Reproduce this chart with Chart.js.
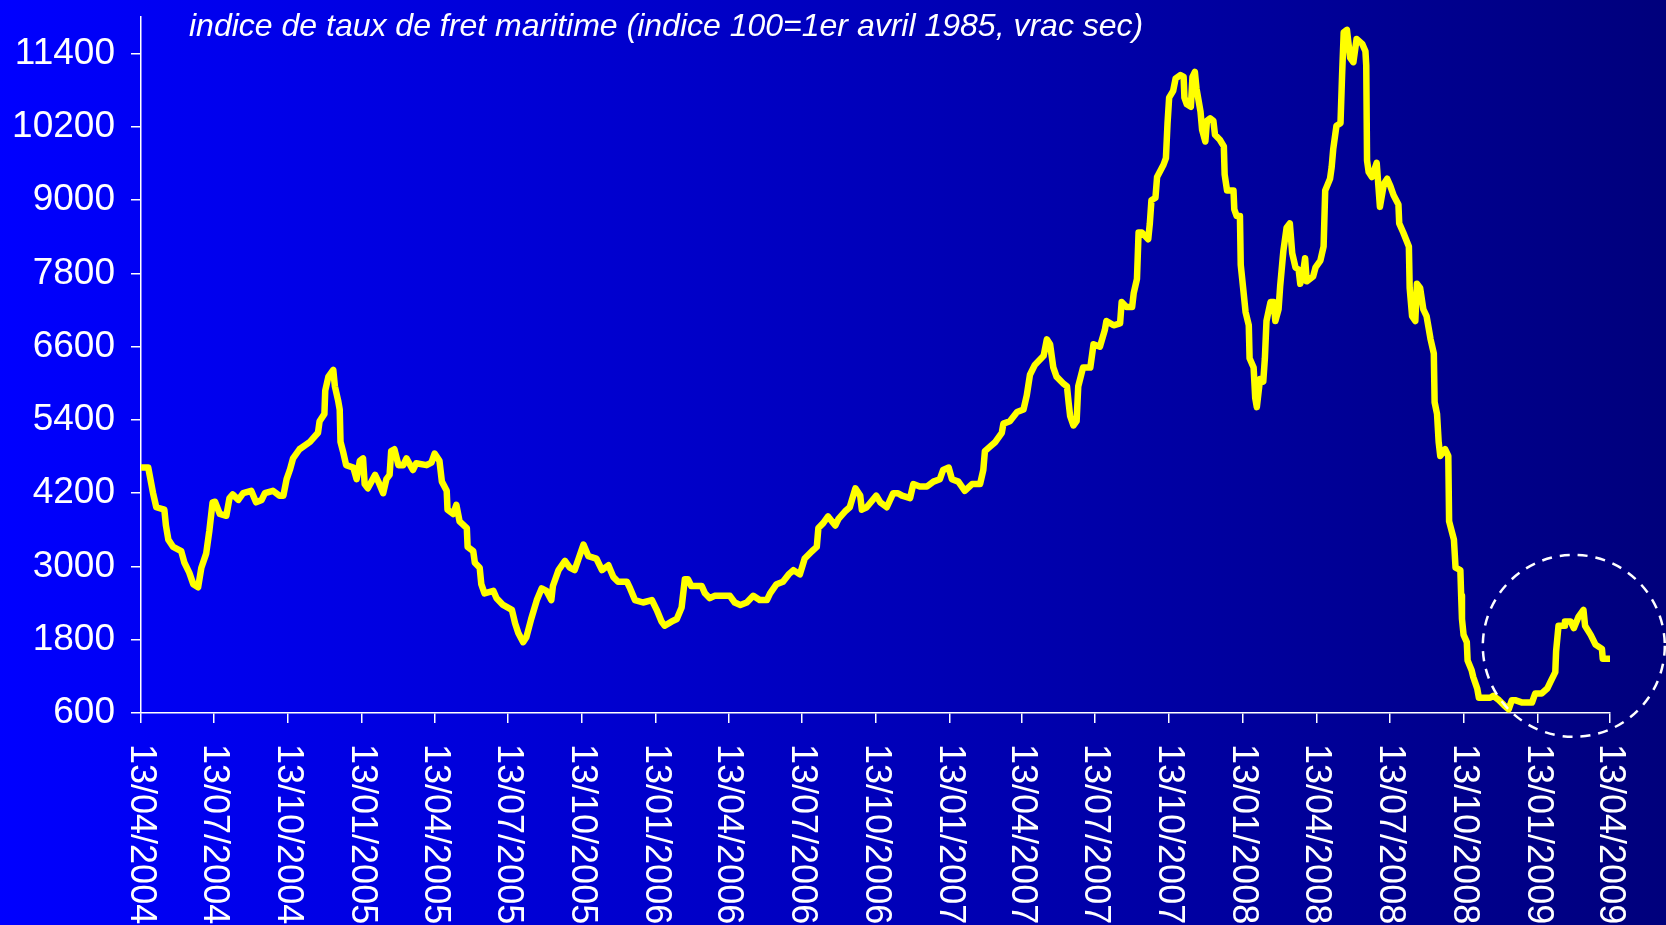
<!DOCTYPE html>
<html>
<head>
<meta charset="utf-8">
<script src="https://cdn.jsdelivr.net/npm/chart.js@4.4.0/dist/chart.umd.min.js"></script>
<style>
  html, body { margin: 0; padding: 0; background: #000080; overflow: hidden; }
</style>
</head>
<body>
<canvas id="myChart" width="1666" height="925"></canvas>
<script>
const titleText = "indice de taux de fret maritime (indice 100=1er avril 1985, vrac sec)";

const tickLabels = [
  "13/04/2004", "13/07/2004", "13/10/2004", "13/01/2005", "13/04/2005", "13/07/2005",
  "13/10/2005", "13/01/2006", "13/04/2006", "13/07/2006", "13/10/2006", "13/01/2007",
  "13/04/2007", "13/07/2007", "13/10/2007", "13/01/2008", "13/04/2008", "13/07/2008",
  "13/10/2008", "13/01/2009", "13/04/2009"
];

const yTicks = [600, 1800, 3000, 4200, 5400, 6600, 7800, 9000, 10200, 11400];

// jours depuis le 13/04/2004
const days = [
  0, 9, 15, 19, 29, 31, 34, 40, 50, 54, 60, 65, 71, 75, 81, 85, 89, 92, 98, 106,
  110, 114, 121, 127, 137, 143, 150, 154, 164, 172, 177, 181, 185, 189, 197, 210, 220, 222, 228, 229,
  233, 239, 241, 245, 247, 248, 251, 255, 264, 268, 272, 276, 278, 282, 291, 295, 301, 305, 309, 311,
  315, 320, 326, 330, 338, 342, 355, 361, 365, 371, 374, 380, 381, 388, 392, 396, 405, 406, 413, 415,
  421, 423, 427, 438, 442, 450, 461, 465, 469, 475, 479, 485, 492, 498, 504, 510, 512, 519, 527, 533,
  539, 544, 550, 556, 566, 573, 581, 587, 593, 604, 608, 614, 624, 635, 641, 647, 651, 660, 666, 672,
  676, 680, 684, 697, 701, 707, 713, 732, 738, 745, 753, 761, 769, 778, 782, 790, 798, 805, 811, 819,
  825, 834, 840, 842, 848, 854, 863, 867, 875, 881, 888, 894, 896, 902, 914, 919, 927, 935, 941, 946,
  956, 960, 968, 977, 985, 993, 997, 1004, 1008, 1016, 1024, 1033, 1043, 1047, 1049, 1055, 1062, 1070, 1072, 1080,
  1089, 1097, 1101, 1105, 1111, 1122, 1126, 1130, 1134, 1138, 1147, 1151, 1153, 1155, 1159, 1163, 1165, 1171, 1180, 1184,
  1192, 1198, 1200, 1209, 1217, 1219, 1225, 1232, 1234, 1238, 1240, 1244, 1252, 1254, 1256, 1261, 1263, 1271, 1274, 1276,
  1278, 1283, 1286, 1292, 1296, 1297, 1300, 1305, 1307, 1310, 1312, 1317, 1319, 1323, 1325, 1329, 1333, 1335, 1341, 1346,
  1347, 1350, 1358, 1359, 1362, 1366, 1367, 1370, 1373, 1377, 1378, 1383, 1385, 1387, 1391, 1395, 1397, 1399, 1404, 1408,
  1410, 1414, 1416, 1420, 1424, 1428, 1431, 1435, 1439, 1441, 1445, 1447, 1449, 1453, 1457, 1460, 1466, 1470, 1472, 1478,
  1480, 1482, 1486, 1491, 1493, 1495, 1499, 1503, 1507, 1511, 1518, 1522, 1523, 1524, 1526, 1530, 1536, 1540, 1545, 1549,
  1553, 1557, 1563, 1564, 1569, 1576, 1577, 1580, 1584, 1586, 1590, 1594, 1598, 1600, 1603, 1607, 1608, 1611, 1613, 1615,
  1621, 1625, 1626, 1632, 1633, 1634, 1640, 1641, 1642, 1644, 1648, 1649, 1654, 1656, 1661, 1663, 1677, 1681, 1688, 1694,
  1700, 1704, 1708, 1717, 1729, 1733, 1741, 1748, 1752, 1758, 1759, 1762, 1769, 1770, 1777, 1781, 1787, 1793, 1795, 1802,
  1808, 1816, 1817, 1826
];

const bdi = [
  4620, 4620, 4200, 3970, 3930, 3670, 3440, 3320, 3250, 3060, 2900, 2710, 2660, 2980, 3210, 3590, 4050, 4060, 3860, 3830,
  4120, 4180, 4090, 4200, 4240, 4050, 4090, 4200, 4240, 4160, 4160, 4430, 4580, 4770, 4920, 5040, 5190, 5380, 5500, 5880,
  6110, 6220, 5950, 5720, 5570, 5040, 4890, 4660, 4620, 4430, 4730, 4770, 4350, 4280, 4500, 4390, 4200, 4430, 4500, 4890,
  4920, 4660, 4660, 4770, 4580, 4690, 4660, 4700, 4850, 4730, 4390, 4240, 3930, 3860, 4010, 3740, 3630, 3320, 3250, 3060,
  2980, 2710, 2560, 2600, 2480, 2370, 2290, 2070, 1910, 1760, 1840, 2140, 2450, 2640, 2600, 2450, 2680, 2940, 3090, 2980,
  2940, 3130, 3360, 3170, 3130, 2940, 3020, 2830, 2750, 2750, 2640, 2450, 2410, 2450, 2290, 2100, 2030, 2100, 2140, 2330,
  2790, 2790, 2680, 2680, 2560, 2480, 2520, 2520, 2410, 2370, 2410, 2520, 2450, 2450, 2560, 2710, 2750, 2870, 2940, 2870,
  3130, 3250, 3320, 3630, 3710, 3820, 3670, 3780, 3900, 3970, 4280, 4160, 3930, 3970, 4160, 4050, 3970, 4200, 4200, 4160,
  4120, 4350, 4310, 4310, 4390, 4430, 4580, 4620, 4430, 4390, 4240, 4350, 4350, 4580, 4890, 4960, 5040, 5190, 5340, 5380,
  5530, 5570, 5800, 6140, 6300, 6450, 6720, 6640, 6260, 6110, 5990, 5950, 5690, 5460, 5310, 5380, 5950, 6260, 6260, 6640,
  6600, 6870, 7020, 6950, 6980, 7330, 7250, 7250, 7480, 7710, 8470, 8470, 8360, 8620, 9000, 9040, 9380, 9580, 9690, 10260,
  10680, 10790, 10990, 11050, 11020, 10680, 10570, 10530, 11020, 11100, 10830, 10450, 10150, 9960, 10300, 10340, 10300, 10070, 9990, 9880,
  9420, 9160, 9160, 8850, 8740, 8740, 7940, 7560, 7170, 6950, 6410, 6260, 5760, 5610, 6070, 6030, 6410, 7020, 7330, 7330,
  7020, 7210, 7590, 8170, 8550, 8620, 8130, 7900, 7860, 7630, 7860, 8050, 7670, 7710, 7750, 7900, 8010, 8240, 9160, 9350,
  9540, 9840, 10220, 10260, 11060, 11750, 11790, 11330, 11260, 11640, 11560, 11440, 11210, 9650, 9460, 9380, 9610, 8890, 9270, 9350,
  9230, 9080, 8930, 8620, 8470, 8240, 7560, 7100, 7020, 7630, 7560, 7210, 7100, 6950, 6720, 6490, 5690, 5500, 5040, 4810,
  4920, 4810, 3740, 3440, 3210, 2980, 2940, 2520, 2140, 1880, 1760, 1460, 1300, 1190, 1000, 850, 850, 880, 810, 730,
  660, 810, 810, 770, 770, 920, 920, 1000, 1110, 1270, 1610, 2030, 2030, 2100, 2100, 1990, 2180, 2290, 2030, 1880,
  1720, 1650, 1490, 1490
];

// centre du cercle pointillé (en coordonnées des axes)
const circleAt = { day: 1781, value: 1700 };

function dayOf(label) {
  const [d, m, y] = label.split("/").map(Number);
  return (Date.UTC(y, m - 1, d) - Date.UTC(2004, 3, 13)) / 86400000;
}
const tickDays = tickLabels.map(dayOf);

const font = '"Liberation Sans", Arial, sans-serif';

const bgPlugin = {
  id: "bg",
  beforeDraw(chart) {
    const { ctx, width, height } = chart;
    const g = ctx.createLinearGradient(0, 0, width, 0);
    g.addColorStop(0, "#0000ff");
    g.addColorStop(1, "#00007c");
    ctx.save();
    ctx.fillStyle = g;
    ctx.fillRect(0, 0, width, height);
    ctx.restore();
  }
};

const overlayPlugin = {
  id: "overlay",
  afterDraw(chart) {
    const { ctx, scales: { x, y } } = chart;
    ctx.save();
    ctx.fillStyle = "#fff";

    // étiquettes de dates, tournées de 90°
    ctx.font = "36px " + font;
    ctx.textAlign = "left";
    ctx.textBaseline = "middle";
    tickDays.forEach((d, i) => {
      ctx.save();
      ctx.translate(x.getPixelForValue(d), y.bottom + 31);
      ctx.rotate(Math.PI / 2);
      ctx.fillText(tickLabels[i], 0, 0);
      ctx.restore();
    });

    // titre
    ctx.font = "italic 32px " + font;
    ctx.textBaseline = "alphabetic";
    ctx.fillText(titleText, 189, 36);

    // cercle pointillé
    ctx.strokeStyle = "#fff";
    ctx.lineWidth = 2.5;
    ctx.setLineDash([10, 8]);
    ctx.beginPath();
    ctx.arc(x.getPixelForValue(circleAt.day), y.getPixelForValue(circleAt.value), 91, 0, Math.PI * 2);
    ctx.stroke();
    ctx.restore();
  }
};

const ctx = document.getElementById("myChart").getContext("2d");
new Chart(ctx, {
  type: "line",
  data: {
    datasets: [{
      data: days.map((d, i) => ({ x: d, y: bdi[i] })),
      borderColor: "#ffff00",
      borderWidth: 6.5,
      borderJoinStyle: "round",
      borderCapStyle: "round",
      pointRadius: 0,
      tension: 0,
      fill: false
    }]
  },
  options: {
    responsive: false,
    animation: false,
    layout: { padding: { top: 17, right: 56, bottom: 202, left: 0 } },
    plugins: { legend: { display: false }, tooltip: { enabled: false } },
    scales: {
      x: {
        type: "linear",
        min: 0,
        max: 1826,
        afterBuildTicks(s) { s.ticks = tickDays.map(v => ({ value: v })); },
        ticks: { display: false },
        grid: { drawOnChartArea: false, color: "#fff", tickLength: 10, lineWidth: 1.5 },
        border: { color: "#fff", width: 1.5 },
        afterFit(s) { s.paddingLeft = 0; s.paddingRight = 0; }
      },
      y: {
        min: 600,
        max: 12000,
        afterBuildTicks(s) { s.ticks = yTicks.map(v => ({ value: v })); },
        ticks: {
          color: "#fff",
          font: { family: font, size: 37 },
          padding: 16,
          callback: v => String(v)
        },
        grid: { drawOnChartArea: false, color: "#fff", tickLength: 10, lineWidth: 1.5 },
        border: { color: "#fff", width: 1.5 },
        afterFit(s) { s.width = 141; s.paddingTop = 0; s.paddingBottom = 0; }
      }
    }
  },
  plugins: [bgPlugin, overlayPlugin]
});
</script>
</body>
</html>
